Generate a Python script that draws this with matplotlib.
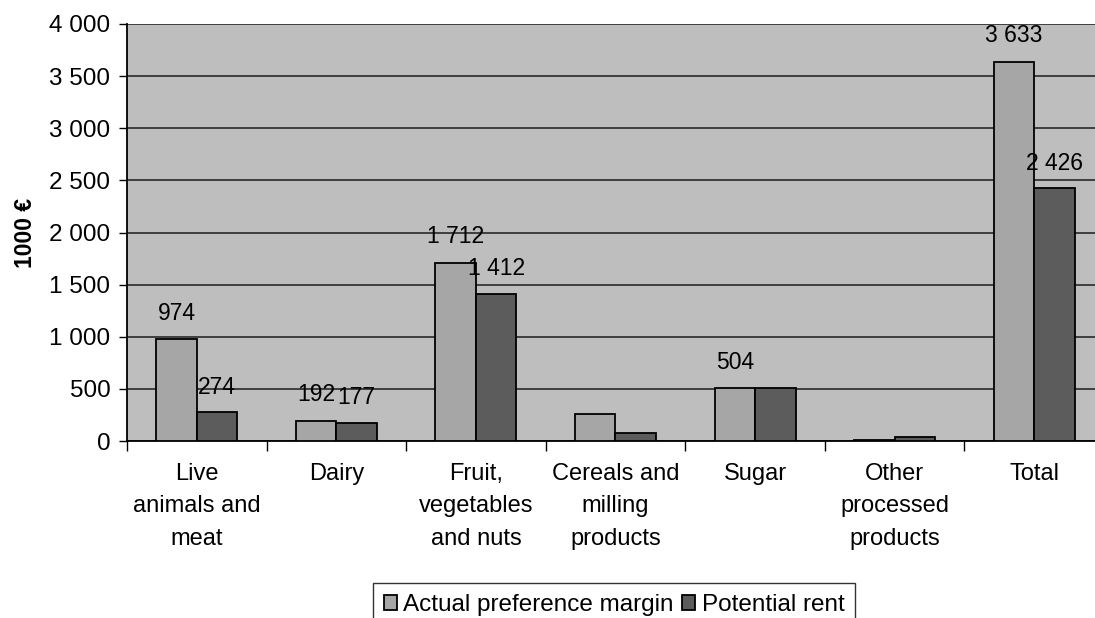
import matplotlib
matplotlib.use("Agg")
import matplotlib.pyplot as plt
import numpy as np

categories = ["Live\nanimals and\nmeat", "Dairy", "Fruit,\nvegetables\nand nuts",
              "Cereals and\nmilling\nproducts", "Sugar", "Other\nprocessed\nproducts", "Total"]
actual = [974, 192, 1712, 255, 504, 5, 3633]
potential = [274, 177, 1412, 75, 504, 40, 2426]
actual_labels = ["974", "192", "1 712", None, "504", None, "3 633"]
potential_labels = ["274", "177", "1 412", None, None, None, "2 426"]
series_names = ["Actual preference margin", "Potential rent"]
yticks = [0, 500, 1000, 1500, 2000, 2500, 3000, 3500, 4000]
ytick_labels = ["0", "500", "1 000", "1 500", "2 000", "2 500", "3 000", "3 500", "4 000"]

plt.rcParams['font.family'] = ['Liberation Sans', 'DejaVu Sans']

fig = plt.figure(figsize=(10.95, 6.18), dpi=100)
ax = fig.add_axes([127/1095, 1-441/618, (1104-127)/1095, (441-24)/618])
ax.set_facecolor("#bebebe")

x = np.arange(len(categories))
w = 0.29
c_act = "#a6a6a6"
c_pot = "#5c5c5c"
b1 = ax.bar(x - w/2, actual, w, color=c_act, edgecolor="black", linewidth=1.3, zorder=3,
            label=series_names[0])
b2 = ax.bar(x + w/2, potential, w, color=c_pot, edgecolor="black", linewidth=1.3, zorder=3,
            label=series_names[1])

for xi, v, lab in zip(x - w/2, actual, actual_labels):
    if lab:
        ax.annotate(lab, (xi, v), xytext=(0, 19), textcoords="offset points",
                    ha="center", va="center", fontsize=16.5, zorder=5)
for xi, v, lab in zip(x + w/2, potential, potential_labels):
    if lab:
        ax.annotate(lab, (xi, v), xytext=(0, 18), textcoords="offset points",
                    ha="center", va="center", fontsize=16.5, zorder=5)

ax.set_xlim(-0.5, len(categories) - 0.5)
ax.set_ylim(0, 4000)
ax.set_yticks(yticks)
ax.set_yticklabels(ytick_labels, fontsize=17.5)
ax.yaxis.grid(True, color="#2a2a2a", linewidth=1.2, zorder=1)
ax.set_axisbelow(True)

ax.set_xticks(x)
ax.set_xticklabels(categories, fontsize=17, linespacing=1.6, va="top")
ax.tick_params(axis="x", length=0, pad=16)
ax.set_xticks(np.arange(len(categories) + 1) - 0.5, minor=True)
ax.tick_params(axis="x", which="minor", length=7, width=1, direction="out")
ax.tick_params(axis="y", length=6, width=1, direction="out", pad=6)

for s in ["top", "right"]:
    ax.spines[s].set_visible(False)
ax.spines["left"].set_linewidth(1.3)
ax.spines["bottom"].set_linewidth(1.3)

ax.set_ylabel("1000 €", fontsize=16.5, fontweight="bold", labelpad=9)

leg = fig.legend(handles=[b1, b2], loc="upper center", bbox_to_anchor=(614/1095, 1-583/618),
                 ncol=2, fontsize=17.5, frameon=True, fancybox=False, edgecolor="black",
                 handlelength=0.55, handleheight=0.55, handletextpad=0.25, columnspacing=0.35,
                 borderpad=0.45, borderaxespad=0)
leg.get_frame().set_linewidth(1.0)

fig.savefig("out.png", dpi=100)
